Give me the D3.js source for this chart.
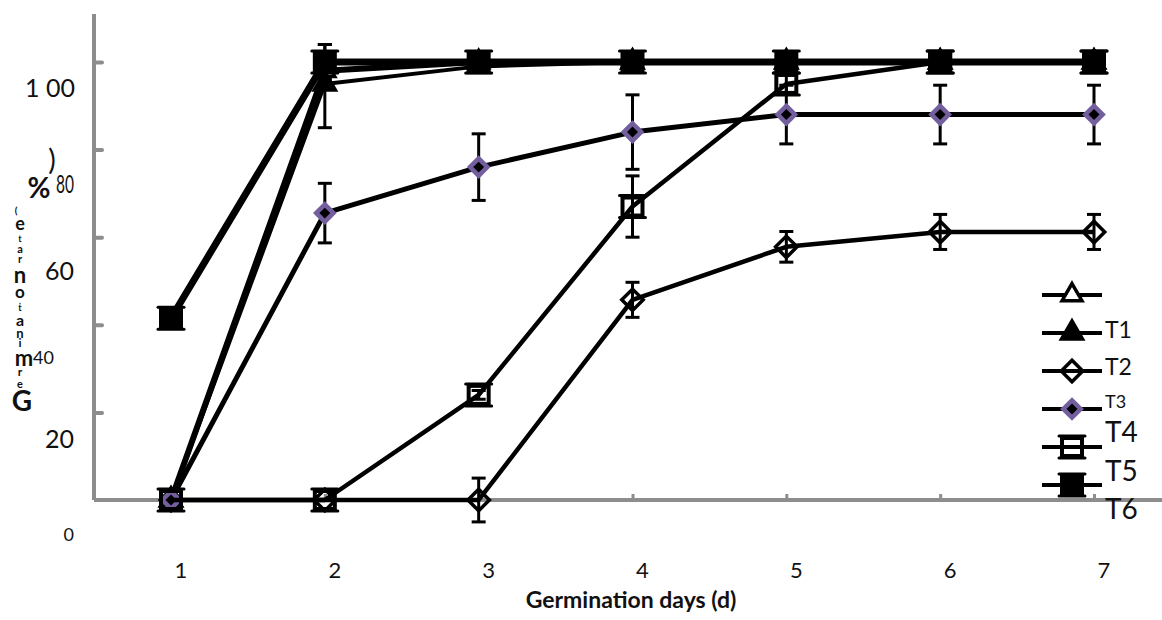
<!DOCTYPE html>
<html><head><meta charset="utf-8">
<script src="https://cdn.jsdelivr.net/npm/d3@7/dist/d3.min.js"></script>
<style>
html,body{margin:0;padding:0;background:#fff;}
svg{display:block;font-family:Lato,"Open Sans",sans-serif;}
</style></head>
<body>
<svg id="chart" width="1162" height="620"></svg>
<script>
// ---------- DATA ----------
const days = [1, 2, 3, 4, 5, 6, 7];
const seriesNames = ["", "T1", "T2", "T3", "T4", "T5"];
const ckValues  = [0, 98, 100, 100, 100, 100, 100];
const ckErr     = [0, 0, 0, 0, 0, 0, 0];
const t1Values  = [0, 95, 99, 100, 100, 100, 100];
const t1Err     = [0, 10, 0, 0, 0, 0, 0];
const t2Values  = [0, 0, 0, 45.7, 57.8, 61.2, 61.2];
const t2Err     = [0, 0, 5, 4, 3.5, 4, 4];
const t3Values  = [0, 65.5, 76, 84, 88, 88, 88];
const t3Err     = [0, 6.8, 7.6, 8.5, 6.7, 6.7, 6.7];
const t4Values  = [0, 0, 24, 67, 95, 100, 100];
const t4Err     = [0, 0, 1, 7, 2, 0, 0];
const t5Values  = [41.5, 100, 100, 100, 100, 100, 100];
const t5Err     = [0, 4, 0, 0, 0, 0, 0];
const legendLabels = ["", "T1", "T2", "T3", "T4", "T5", "T6"];
const yTickValues = [0, 20, 40, 60, 80, 100];
const yTickLabels = ["0", "20", "40", "60", "80", "1 00"];
const xTickLabels = ["1", "2", "3", "4", "5", "6", "7"];
const xTitle = "Germination days (d)";
const yTitleChars = [")", "%", "(", "e", "t", "a", "r", "n", "o", ".", "t", "a", "n", "i", "m", "r", "e", "G"];

// ---------- LAYOUT / STYLE ----------
const PURPLE = "#735f9d";
const AXIS = "#8d8d8d";
const yTickLayout = [ // [anchorX, dyFromTick, size, anchor, textLength]
  [74, 35, 18, "end", null],
  [74, 27, 25, "end", null],
  [33, 33, 18, "start", null],
  [74, 34, 25, "end", null],
  [74, 35, 25, "end", 18],
  [75, 26, 25, "end", null]
];
const yTitleLayout = [ // [x, y, size, weight]
  [52, 160, 28, 400], [39, 188, 28, 700], [16, 210, 10, 700], [20, 224, 18, 700],
  [20, 239, 9, 700], [20, 249, 11, 700], [20, 259, 11, 700], [20, 275, 22, 700],
  [20, 292, 17, 700], [20, 300, 10, 400], [20, 308, 9, 700], [20, 320, 16, 700],
  [20, 333, 13, 700], [20, 343, 12, 700], [24, 358, 22, 700], [20, 372, 12, 700],
  [20, 384, 11, 700], [22, 401, 28, 700]
];
const legendLayout = [ // [labelDy, size]
  [-3, 22], [-3, 23], [-4, 23], [-7, 18], [-15, 28], [-14, 28], [-14, 28]
];
const lineWidths = [6, 4, 4.5, 5, 4.5, 7];

const svg = d3.select("#chart");
const x = d3.scaleLinear().domain([1, 7]).range([171, 1094]);
const y = d3.scaleLinear().domain([0, 100]).range([500, 62]);
const AXIS_X = 94, AXIS_TOP = 14;

// ---------- AXES ----------
const yAxis = d3.axisRight(y).tickValues(yTickValues.slice(1)).tickSize(8).tickFormat("");
const gy = svg.append("g").attr("transform", `translate(${AXIS_X},0)`).call(yAxis);
gy.select(".domain").remove();
gy.selectAll(".tick line").attr("stroke", AXIS).attr("stroke-width", 4).attr("stroke-linecap", "round");
svg.append("line").attr("x1", AXIS_X).attr("x2", AXIS_X).attr("y1", AXIS_TOP).attr("y2", y(0))
  .attr("stroke", AXIS).attr("stroke-width", 4);

const xAxis = d3.axisTop(x).tickValues(days).tickSize(6).tickFormat("");
const gx = svg.append("g").attr("transform", `translate(0,${y(0)})`).call(xAxis);
gx.select(".domain").remove();
gx.selectAll(".tick line").attr("stroke", AXIS).attr("stroke-width", 3);
svg.append("line").attr("x1", AXIS_X).attr("x2", 1162).attr("y1", y(0)).attr("y2", y(0))
  .attr("stroke", AXIS).attr("stroke-width", 4);

// y tick labels (offset as in reference)
svg.append("g").selectAll("text").data(yTickValues).join("text")
  .attr("x", (d, i) => yTickLayout[i][0])
  .attr("y", (d, i) => y(d) + yTickLayout[i][1])
  .attr("dy", "0.35em")
  .attr("text-anchor", (d, i) => yTickLayout[i][3])
  .attr("font-size", (d, i) => yTickLayout[i][2])
  .each(function (d, i) { if (yTickLayout[i][4]) d3.select(this).attr("textLength", yTickLayout[i][4]).attr("lengthAdjust", "spacingAndGlyphs"); })
  .attr("fill", "#111")
  .text((d, i) => yTickLabels[i]);

// x tick labels
svg.append("g").selectAll("text").data(days).join("text")
  .attr("x", d => x(d) + 10).attr("y", 570).attr("dy", "0.35em")
  .attr("text-anchor", "middle").attr("font-size", 22).attr("fill", "#111")
  .text((d, i) => xTickLabels[i]);

svg.append("text").attr("x", 631).attr("y", 600).attr("dy", "0.35em")
  .attr("text-anchor", "middle").attr("font-size", 23).attr("font-weight", 700).attr("fill", "#111")
  .text(xTitle);

svg.append("g").selectAll("text").data(yTitleChars).join("text")
  .attr("x", (d, i) => yTitleLayout[i][0]).attr("y", (d, i) => yTitleLayout[i][1])
  .attr("dy", "0.35em").attr("text-anchor", "middle")
  .attr("font-size", (d, i) => yTitleLayout[i][2]).attr("font-weight", (d, i) => yTitleLayout[i][3])
  .attr("fill", "#111").text(d => d);

// ---------- MARKERS ----------
function drawMarker(g, type, cx, cy) {
  const s = g.append("g").attr("transform", `translate(${cx},${cy})`);
  if (type === "triOpen") {
    s.append("path").attr("d", d3.symbol(d3.symbolTriangle, 170)())
      .attr("fill", "#fff").attr("stroke", "#000").attr("stroke-width", 3.5);
  } else if (type === "triFill") {
    s.append("path").attr("d", d3.symbol(d3.symbolTriangle, 240)()).attr("fill", "#000").attr("stroke", "#000").attr("stroke-width", 2);
  } else if (type === "diaOpen") {
    s.append("path").attr("d", d3.symbol(d3.symbolSquare, 230)()).attr("transform", "rotate(45)")
      .attr("fill", "none").attr("stroke", "#000").attr("stroke-width", 3.5);
  } else if (type === "diaPurple") {
    s.append("path").attr("d", d3.symbol(d3.symbolSquare, 280)()).attr("transform", "rotate(45)")
      .attr("fill", PURPLE);
    s.append("path").attr("d", d3.symbol(d3.symbolSquare, 60)()).attr("transform", "rotate(45)")
      .attr("fill", "#000");
  } else if (type === "sqOpen" || type === "sqFill") {
    s.append("rect").attr("x", -10).attr("y", -9).attr("width", 20).attr("height", 18)
      .attr("fill", type === "sqFill" ? "#000" : "none").attr("stroke", "#000").attr("stroke-width", 4);
    [-11, 11].forEach(dy => s.append("line").attr("x1", -13).attr("x2", 13).attr("y1", dy).attr("y2", dy)
      .attr("stroke", "#000").attr("stroke-width", 3).attr("stroke-linecap", "round"));
  }
}

const series = [
  { name: seriesNames[0], values: ckValues, err: ckErr, marker: "triOpen" },
  { name: seriesNames[1], values: t1Values, err: t1Err, marker: "triFill" },
  { name: seriesNames[2], values: t2Values, err: t2Err, marker: "diaOpen" },
  { name: seriesNames[3], values: t3Values, err: t3Err, marker: "diaPurple" },
  { name: seriesNames[4], values: t4Values, err: t4Err, marker: "sqOpen" },
  { name: seriesNames[5], values: t5Values, err: t5Err, marker: "sqFill" }
];

const line = d3.line().x((d, i) => x(days[i])).y(d => y(d));
const plot = svg.append("g");
series.forEach((s, si) => {
  const g = plot.append("g");
  g.append("path").attr("d", line(s.values)).attr("fill", "none").attr("stroke", "#000")
    .attr("stroke-width", lineWidths[si]).attr("stroke-linejoin", "round");
  s.values.forEach((v, i) => {
    const e = s.err[i];
    if (e > 0) {
      const cx = x(days[i]);
      const top = Math.min(v + e, 104);
      g.append("line").attr("x1", cx).attr("x2", cx).attr("y1", y(v - e)).attr("y2", y(top))
        .attr("stroke", "#000").attr("stroke-width", 3);
      [v - e, top].forEach(t => g.append("line").attr("x1", cx - 7).attr("x2", cx + 7)
        .attr("y1", y(t)).attr("y2", y(t)).attr("stroke", "#000").attr("stroke-width", 3));
    }
  });
  s.values.forEach((v, i) => drawMarker(g, s.marker, x(days[i]), y(v)));
});

// ---------- LEGEND ----------
const legend = svg.append("g");
legendLabels.forEach((lab, i) => {
  const ly = 295 + i * 38;
  if (i < series.length) {
    legend.append("line").attr("x1", 1042).attr("x2", 1102).attr("y1", ly).attr("y2", ly)
      .attr("stroke", "#000").attr("stroke-width", 4);
    drawMarker(legend, series[i].marker, 1072, ly);
  }
  legend.append("text").attr("x", 1105).attr("y", ly + legendLayout[i][0]).attr("dy", "0.35em")
    .attr("font-size", legendLayout[i][1]).attr("fill", "#111").text(lab);
});
</script>
</body></html>
